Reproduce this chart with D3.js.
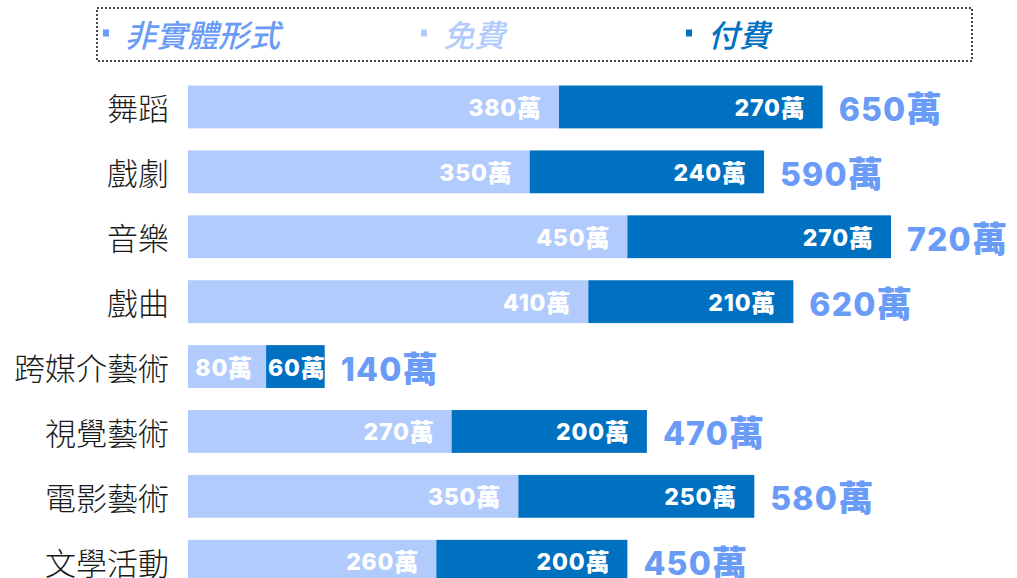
<!DOCTYPE html>
<html>
<head>
<meta charset="utf-8">
<script src="https://cdn.jsdelivr.net/npm/d3@7/dist/d3.min.js"></script>
<style>
  html, body { margin: 0; padding: 0; background: #ffffff; }
  svg { display: block; }
</style>
</head>
<body>
<svg id="chart" width="1017" height="578"></svg>
<script>
// 藝文活動參與人次（萬）：免費 / 付費 / 合計
const categories = ["舞蹈", "戲劇", "音樂", "戲曲", "跨媒介藝術", "視覺藝術", "電影藝術", "文學活動"];
const freeValues = [380, 350, 450, 410, 80, 270, 350, 260];
const paidValues = [270, 240, 270, 210, 60, 200, 250, 200];
const totalValues = [650, 590, 720, 620, 140, 470, 580, 450];
const legendLabels = ["非實體形式", "免費", "付費"];
const unit = "萬";

const colors = {
  nonPhysical: "#6a9cf7",
  free: "#b2cbfd",
  paid: "#0070c0",
  total: "#6a9cf7",
  category: "#1a1a1a"
};

const svg = d3.select("#chart");
const numFont = "'Inter', 'Noto Sans CJK TC', sans-serif";
const cjkFont = "'Noto Sans CJK TC', sans-serif";

// Each bar spans its stated total; the split follows the free / paid shares.
const rows = categories.map((c, i) => {
  const total = totalValues[i];
  const share = freeValues[i] / (freeValues[i] + paidValues[i]);
  return {
    category: c,
    free: freeValues[i],
    paid: paidValues[i],
    total,
    split: total * share
  };
});

const x = d3.scaleLinear().domain([0, 720]).range([188, 891]);
const y = d3.scaleBand()
  .domain(categories)
  .range([74.5, 74.5 + 8 * 64.9])
  .paddingInner(0.34)
  .paddingOuter(0.17);

// Legend box
svg.append("rect")
  .attr("x", 97).attr("y", 8)
  .attr("width", 875).attr("height", 53)
  .attr("fill", "none")
  .attr("stroke", "#444")
  .attr("stroke-width", 2)
  .attr("stroke-dasharray", "2,2");

const legendItems = [
  { label: legendLabels[0], color: colors.nonPhysical, x: 103 },
  { label: legendLabels[1], color: colors.free, x: 421 },
  { label: legendLabels[2], color: colors.paid, x: 686 }
];
const lg = svg.append("g").selectAll("g").data(legendItems).join("g")
  .attr("transform", d => `translate(${d.x},33)`);
lg.append("rect")
  .attr("x", 0).attr("y", -3.5).attr("width", 6).attr("height", 7)
  .attr("fill", d => d.color);
lg.append("text")
  .attr("x", 22).attr("y", 0)
  .attr("dominant-baseline", "central")
  .attr("font-family", cjkFont)
  .attr("font-size", 31)
  .attr("font-weight", 500)
  .attr("font-style", "italic")
  .attr("fill", d => d.color)
  .text(d => d.label);

// Category labels
svg.append("g").selectAll("text").data(rows).join("text")
  .attr("x", 169)
  .attr("y", d => y(d.category) + y.bandwidth() / 2)
  .attr("text-anchor", "end")
  .attr("dominant-baseline", "central")
  .attr("font-family", cjkFont)
  .attr("font-size", 31)
  .attr("font-weight", 300)
  .attr("fill", colors.category)
  .text(d => d.category);

const bars = svg.append("g");

// Free segment
bars.selectAll("rect.free").data(rows).join("rect")
  .attr("class", "free")
  .attr("x", x(0))
  .attr("y", d => y(d.category))
  .attr("width", d => x(d.split) - x(0))
  .attr("height", y.bandwidth())
  .attr("fill", colors.free);

// Paid segment
bars.selectAll("rect.paid").data(rows).join("rect")
  .attr("class", "paid")
  .attr("x", d => x(d.split))
  .attr("y", d => y(d.category))
  .attr("width", d => x(d.total) - x(d.split))
  .attr("height", y.bandwidth())
  .attr("fill", colors.paid);

// Number + unit label with the unit drawn slightly larger
function valueLabel(sel, value, numSize, unitSize, spacing) {
  sel.selectAll("tspan").remove();
  sel.append("tspan")
    .attr("font-size", numSize)
    .attr("letter-spacing", spacing)
    .text(value);
  sel.append("tspan")
    .attr("font-size", unitSize)
    .text(unit);
}

function segmentLabels(cls, valueOf, endOf, pad) {
  bars.selectAll("text." + cls).data(rows).join("text")
    .attr("class", cls)
    .attr("x", d => x(endOf(d)) - pad(d))
    .attr("y", d => y(d.category) + y.bandwidth() / 2 + 1)
    .attr("text-anchor", "end")
    .attr("dominant-baseline", "central")
    .attr("font-family", numFont)
    .attr("font-weight", 800)
    .attr("fill", "#ffffff")
    .each(function(d) { valueLabel(d3.select(this), valueOf(d), 23, 24, 0.8); });
}

segmentLabels("free", d => d.free, d => d.split, d => d.total < 200 ? 14 : 18);
segmentLabels("paid", d => d.paid, d => d.total, d => d.total < 200 ? 0 : 18);

// Total labels
bars.selectAll("text.total").data(rows).join("text").attr("class", "total")
  .attr("x", d => x(d.total) + 16)
  .attr("y", d => y(d.category) + y.bandwidth() / 2 + 2)
  .attr("dominant-baseline", "central")
  .attr("font-family", numFont)
  .attr("font-weight", 800)
  .attr("fill", colors.total)
  .each(function(d) { valueLabel(d3.select(this), d.total, 32, 35, 1.2); });
</script>
</body>
</html>
